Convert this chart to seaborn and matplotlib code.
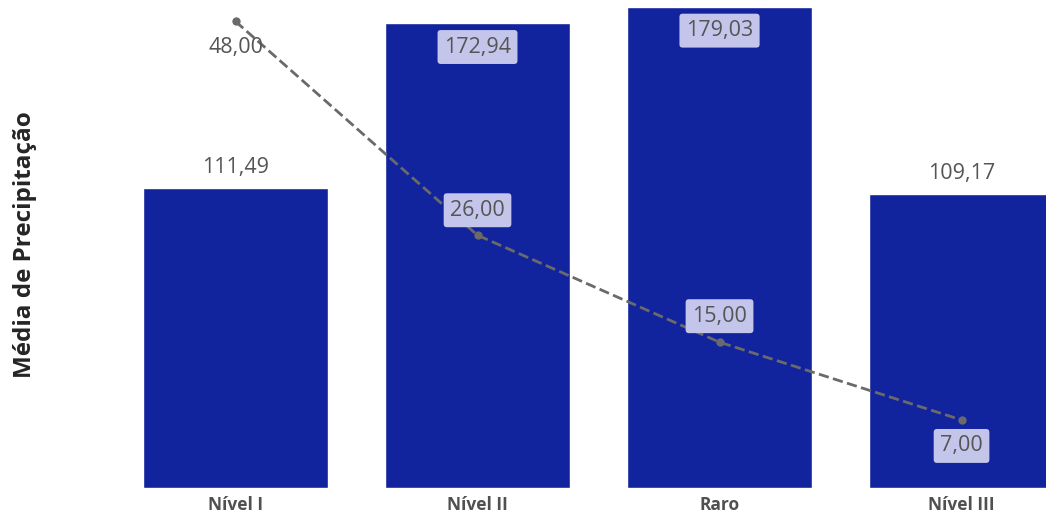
import matplotlib
matplotlib.use("Agg")
import matplotlib.pyplot as plt
import seaborn as sns
import pandas as pd

categories = ["Nível I", "Nível II", "Raro", "Nível III"]
precip = [111.49, 172.94, 179.03, 109.17]
counts = [48.00, 26.00, 15.00, 7.00]

sns.set_theme(style="white")
plt.rcParams['font.family'] = ['Open Sans', 'DejaVu Sans']

BAR = "#12239E"
TXT = "#555555"
BOX = "#c3c6ea"
LINE = "#6a6a6a"

def fmt(v):
    return f"{v:.2f}".replace(".", ",")

df = pd.DataFrame({"cat": categories, "precip": precip, "pos": range(len(categories)), "count": counts})

fig = plt.figure(figsize=(10.46, 5.18), dpi=100)
L = 114.5 / 1046
ax = fig.add_axes([L, 30 / 518, 1 - L, 488 / 518])
sns.barplot(data=df, x="cat", y="precip", ax=ax, color=BAR, saturation=1, width=0.765)
ax.set_xlim(-0.5, 3.349)
ax.set_ylim(0, 181.5)
ax.set_yticks([])
ax.set_xlabel("")
ax.set_ylabel("")
for s in ax.spines.values():
    s.set_visible(False)
ax.tick_params(axis="x", length=0, pad=6)
for lab in ax.get_xticklabels():
    lab.set_fontweight("bold")
    lab.set_fontsize(12.5)
    lab.set_color("#505050")

fig.text(25 / 1046, 1 - 245 / 518, "Média de Precipitação", rotation=90, ha="center", va="center",
         fontsize=17.5, fontweight="bold", color="#252525")

ax2 = ax.twinx()
sns.lineplot(data=df, x="pos", y="count", ax=ax2, color=LINE, linestyle="--", linewidth=2,
             marker="o", markersize=6, markeredgewidth=0)
ax2.set_ylim(0, 50.2)
ax2.set_yticks([])
ax2.set_ylabel("")
ax2.set_xlabel("")
for s in ax2.spines.values():
    s.set_visible(False)

box = dict(boxstyle="round,pad=0.3,rounding_size=0.15", fc=BOX, ec="none")

# bar labels
bar_inside = [False, True, True, False]
for i, (v, inside) in enumerate(zip(precip, bar_inside)):
    if inside:
        ax.annotate(fmt(v), (i, v), xytext=(0, -24), textcoords="offset pixels", ha="center", va="center",
                    fontsize=15.5, color=TXT, bbox=box)
    else:
        ax.annotate(fmt(v), (i, v), xytext=(0, 21), textcoords="offset pixels", ha="center", va="center",
                    fontsize=15.5, color=TXT)

# line labels
line_off = [-26, 25, 26, -26]
line_box = [False, True, True, True]
for i, (v, off, bx) in enumerate(zip(counts, line_off, line_box)):
    kw = dict(bbox=box) if bx else {}
    ax2.annotate(fmt(v), (i, v), xytext=(0, off), textcoords="offset pixels", ha="center", va="center",
                 fontsize=15.5, color=TXT, **kw)

fig.savefig("out.png", dpi=100)
